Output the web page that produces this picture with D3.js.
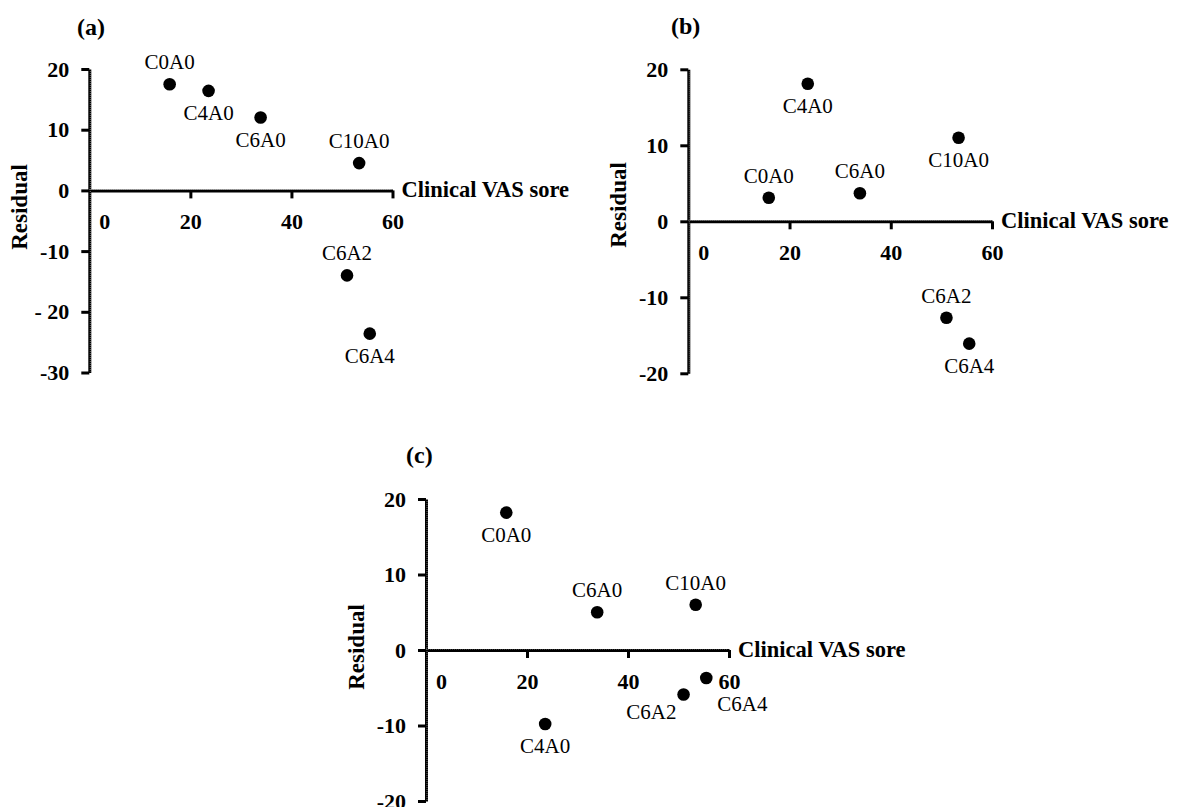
<!DOCTYPE html>
<html>
<head>
<meta charset="utf-8">
<script src="https://cdn.jsdelivr.net/npm/d3@7"></script>
<style>
  body { margin: 0; background: #fff; }
  svg text { font-family: "Liberation Serif", "Times New Roman", serif; fill: #000; }
</style>
</head>
<body>
<div id="chart"></div>
<script>
// samples and their clinical VAS score (same for all three panels)
const samples = ['C0A0', 'C4A0', 'C6A0', 'C10A0', 'C6A2', 'C6A4'];
const vasScore = [15.9, 23.6, 33.9, 53.4, 51.0, 55.5];

// residuals per panel
const residualA = [17.5, 16.4, 12.0, 4.5, -14.0, -23.6];
const residualB = [3.1, 18.1, 3.7, 11.0, -12.7, -16.1];
const residualC = [18.2, -9.8, 5.0, 6.0, -5.9, -3.7];

const xTicks = [0, 20, 40, 60];
const xTickLabels = ['0', '20', '40', '60'];
const yTicksA = [20, 10, 0, -10, -20, -30];
const yTickLabelsA = ['20', '10', '0', '-10', '- 20', '-30'];
const yTicksB = [20, 10, 0, -10, -20];
const yTickLabelsB = ['20', '10', '0', '-10', '-20'];
const yTicksC = [20, 10, 0, -10, -20];
const yTickLabelsC = ['20', '10', '0', '-10', '-20'];

const panelTitles = ['(a)', '(b)', '(c)'];
const xTitle = 'Clinical VAS sore';
const yTitle = 'Residual';

// where each point label sits relative to its dot
const placeA = ['above', 'below', 'below', 'above', 'above', 'below'];
const placeB = ['above', 'below', 'above', 'below', 'above', 'below'];
const placeC = ['below', 'below', 'above', 'above', 'belowLeft', 'belowRight'];

const width = 1180;
const height = 807;

const panels = [
  { res: residualA, ticks: yTicksA, tickLabels: yTickLabelsA, place: placeA, title: panelTitles[0],
    left: 89.3, right: 392.5, top: 69, bottom: 372.5, titleX: 77, titleY: 35, resY: 207 },
  { res: residualB, ticks: yTicksB, tickLabels: yTickLabelsB, place: placeB, title: panelTitles[1],
    left: 688.3, right: 992, top: 69.3, bottom: 373.3, titleX: 671, titleY: 34, resY: 205 },
  { res: residualC, ticks: yTicksC, tickLabels: yTickLabelsC, place: placeC, title: panelTitles[2],
    left: 426, right: 729, top: 499, bottom: 801, titleX: 406, titleY: 463, resY: 647 },
];

const labelOffset = {
  above: { dx: 0, dy: -15, anchor: 'middle' },
  below: { dx: 0, dy: 29.5, anchor: 'middle' },
  belowLeft: { dx: -7, dy: 24, anchor: 'end' },
  belowRight: { dx: 11, dy: 33, anchor: 'start' },
};

const svg = d3.select('#chart').append('svg')
  .attr('width', width)
  .attr('height', height);

panels.forEach(p => {
  const x = d3.scaleLinear().domain([0, 60]).range([p.left, p.right]);
  const y = d3.scaleLinear().domain([d3.min(p.ticks), 20]).range([p.bottom, p.top]);

  const g = svg.append('g');

  const xAxis = g.append('g')
    .attr('transform', `translate(0,${y(0)})`)
    .call(d3.axisBottom(x)
      .tickValues(xTicks)
      .tickFormat((d, i) => xTickLabels[i])
      .tickSize(8)
      .tickSizeOuter(0)
      .tickPadding(15));

  const yAxis = g.append('g')
    .attr('transform', `translate(${x(0)},0)`)
    .call(d3.axisLeft(y)
      .tickValues(p.ticks)
      .tickFormat((d, i) => p.tickLabels[i])
      .tickSize(8)
      .tickSizeOuter(0)
      .tickPadding(12));

  [xAxis, yAxis].forEach(a => {
    a.attr('font-family', null).attr('font-size', null);
    a.select('.domain').attr('stroke', '#000').attr('stroke-width', 3);
    a.selectAll('.tick line').attr('stroke', '#000').attr('stroke-width', 3);
    a.selectAll('.tick text')
      .style('font-size', '22px')
      .style('font-weight', 'bold');
  });

  // the scanned axes have a faint dotted edge
  g.append('line')
    .attr('x1', p.left).attr('x2', p.right - 1)
    .attr('y1', y(0) - 1).attr('y2', y(0) - 1)
    .attr('stroke', '#fff').attr('stroke-opacity', 0.45)
    .attr('stroke-width', 1).attr('stroke-dasharray', '1,1');
  g.append('line')
    .attr('x1', x(0) + 1).attr('x2', x(0) + 1)
    .attr('y1', p.top + 2).attr('y2', p.bottom - 1)
    .attr('stroke', '#fff').attr('stroke-opacity', 0.45)
    .attr('stroke-width', 1).attr('stroke-dasharray', '1,1');

  // the "0" under the x axis is nudged off the y axis
  xAxis.selectAll('.tick text').filter(d => d === 0).attr('x', 15);
  xAxis.selectAll('.tick line').filter(d => d === 0).remove();

  g.append('text')
    .attr('x', p.right + 9)
    .attr('y', y(0) + 7)
    .style('font-size', '22.5px')
    .style('font-weight', 'bold')
    .text(xTitle);

  g.append('text')
    .attr('transform', `translate(${x(0) - 62},${p.resY}) rotate(-90)`)
    .attr('text-anchor', 'middle')
    .style('font-size', '23px')
    .style('font-weight', 'bold')
    .text(yTitle);

  g.append('text')
    .attr('x', p.titleX)
    .attr('y', p.titleY)
    .style('font-size', '24px')
    .style('font-weight', 'bold')
    .text(p.title);

  const pts = samples.map((s, i) => ({ name: s, vas: vasScore[i], res: p.res[i], place: p.place[i] }));

  g.selectAll('.dot')
    .data(pts)
    .enter().append('circle')
    .attr('class', 'dot')
    .attr('cx', d => x(d.vas))
    .attr('cy', d => y(d.res))
    .attr('r', 6.3)
    .attr('fill', '#000');

  g.selectAll('.lbl')
    .data(pts)
    .enter().append('text')
    .attr('class', 'lbl')
    .attr('x', d => x(d.vas) + labelOffset[d.place].dx)
    .attr('y', d => y(d.res) + labelOffset[d.place].dy)
    .attr('text-anchor', d => labelOffset[d.place].anchor)
    .style('font-size', '21px')
    .text(d => d.name);
});
</script>
</body>
</html>
